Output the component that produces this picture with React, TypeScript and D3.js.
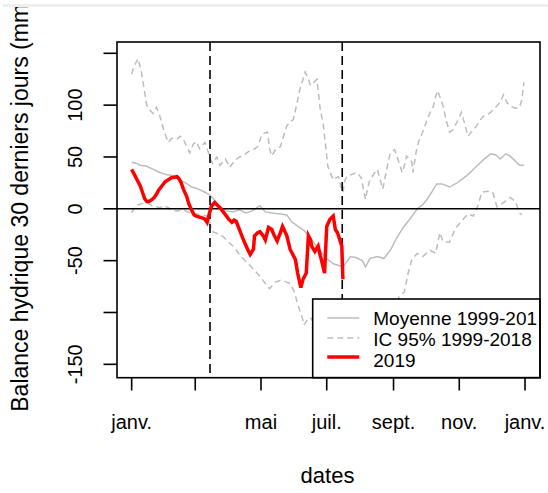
import React from "react";
import * as d3 from "d3";

// ---- data (day of year 2019, value in mm) ----
const meanDays = [0, 4, 8, 14, 20, 26, 32, 38, 44, 50, 56, 62, 68, 73, 78, 82, 88, 94, 100, 106, 112, 119, 124, 130, 138, 144, 148, 153, 160, 166, 170, 175, 181, 187, 193, 197, 203, 208, 214, 217, 221, 228, 234, 240, 246, 252, 258, 265, 270, 274, 279, 283, 288, 295, 302, 311, 316, 320, 326, 333, 338, 342, 347, 351, 356, 360, 364];
const meanVals = [45, 44, 42, 41, 38, 35, 33, 32, 28, 25, 21, 19, 16, 13, 7, 2, -2, -3, -1, -4, -2, 3, -3, -4, -5, -6, -12, -16, -21, -28, -34, -41, -48, -53, -55, -55, -46, -47, -50, -56, -48, -46, -48, -40, -28, -18, -10, 0, 4, 9, 17, 24, 24, 21, 25, 32, 37, 41, 47, 53, 52, 48, 53, 51, 46, 42, 42];

const upperDays = [0, 2, 6, 9, 14, 17, 20, 23, 26, 30, 34, 37, 42, 45, 48, 51, 54, 57, 60, 63, 68, 71, 73, 75, 79, 82, 87, 91, 96, 100, 103, 108, 113, 117, 121, 126, 128, 130, 134, 138, 141, 144, 147, 150, 153, 156, 159, 161, 164, 166, 169, 172, 175, 178, 179, 182, 185, 187, 190, 192, 194, 196, 198, 200, 204, 209, 213, 217, 219, 221, 225, 228, 230, 233, 237, 240, 244, 247, 251, 254, 255, 258, 260, 261, 264, 266, 270, 274, 277, 280, 282, 284, 287, 289, 292, 295, 298, 300, 304, 306, 309, 312, 316, 320, 323, 326, 330, 333, 337, 342, 345, 348, 351, 356, 360, 362, 364];
const upperVals = [130, 137, 145, 132, 100, 95, 92, 98, 90, 75, 64, 68, 67, 70, 67, 60, 54, 62, 65, 58, 64, 55, 48, 44, 50, 42, 48, 40, 47, 50, 51, 55, 57, 60, 72, 74, 58, 51, 58, 60, 70, 80, 84, 86, 100, 115, 125, 132, 125, 119, 122, 125, 96, 80, 70, 41, 33, 28, 30, 31, 22, 16, 28, 32, 33, 35, 30, 9, 20, 28, 34, 38, 30, 19, 40, 54, 57, 48, 35, 45, 51, 48, 45, 35, 55, 64, 74, 85, 93, 99, 108, 114, 105, 99, 85, 74, 76, 80, 88, 93, 82, 70, 75, 80, 85, 89, 91, 93, 97, 103, 110, 103, 99, 97, 98, 105, 122];

const lowerDays = [0, 2, 6, 10, 14, 19, 23, 26, 30, 34, 37, 42, 48, 54, 60, 66, 70, 73, 75, 80, 85, 89, 94, 100, 107, 113, 119, 124, 128, 133, 138, 142, 147, 151, 153, 156, 158, 160, 163, 166, 170, 180, 190, 200, 210, 220, 230, 240, 248, 253, 257, 260, 265, 270, 277, 282, 286, 289, 295, 300, 305, 312, 317, 321, 325, 330, 335, 339, 345, 351, 356, 360, 362];
const lowerVals = [-4, 0, 4, 5, 6, 3, 2, 1, 3, 1, -1, -2, -1, -4, -5, -6, -7, -15, -22, -24, -27, -31, -36, -44, -52, -58, -65, -72, -77, -71, -69, -70, -72, -80, -88, -98, -104, -112, -107, -105, -112, -120, -130, -135, -140, -145, -140, -120, -85, -80, -60, -49, -43, -46, -40, -43, -23, -32, -32, -20, -13, -5, -7, 2, 16, 17, 16, 2, 6, 11, 7, -4, -6];

const obsDays = [0, 1, 3, 5, 8, 10, 12, 14, 16, 19, 21, 23, 25, 28, 31, 34, 37, 42, 44, 46, 48, 51, 53, 56, 58, 60, 63, 66, 68, 70, 72, 74, 77, 80, 82, 85, 88, 90, 93, 95, 97, 100, 103, 105, 108, 110, 113, 114, 117, 119, 122, 124, 127, 130, 132, 135, 138, 140, 144, 147, 150, 152, 154, 157, 159, 162, 164, 166, 167, 170, 173, 175, 176, 179, 181, 184, 185, 187, 189, 191, 195, 196];
const obsVals = [38, 36, 32, 28, 22, 16, 10, 7, 7, 9, 11, 14, 18, 22, 26, 28, 30, 31, 29, 25, 19, 12, 5, -2, -6, -7, -8, -9, -10, -13, -5, 2.5, 6, 3, 1, -3, -7, -10, -13, -11, -12, -20, -28, -33, -40, -44, -39, -26, -23, -22, -26, -30, -18, -20, -25, -31, -23, -17, -26, -39, -45, -49, -62, -76, -68, -62, -26, -30, -36, -41, -36, -45, -49, -62, -17, -10, -9, -7, -20, -23, -36, -68];

const markerDays = [72.7, 195.4];

const monthTickDays = [0, 59, 120, 181, 243, 304, 365];
const monthTickLabels = ["janv.", "", "mai", "juil.", "sept.", "nov.", "janv."];

const yTicks = [-150, -100, -50, 0, 50, 100, 150];
const yTickLabels = ["-150", "", "-50", "0", "50", "100", ""];

const legendLabels = ["Moyenne 1999-2018", "IC 95% 1999-2018", "2019"];

const W = 548;
const H = 493;
const box = { left: 117, top: 42, right: 540, bottom: 377.7 };
const FONT = "'Liberation Sans', Arial, Helvetica, sans-serif";
const GREY = "#bdbdbd";

export default function App() {
  const x = d3.scaleLinear().domain([-13.6, 378.9]).range([box.left, box.right]);
  const y = d3.scaleLinear().domain([-162.9, 160.9]).range([box.bottom, box.top]);

  const mk = (days: number[], vals: number[]) =>
    d3
      .line<number>()
      .x((_, i) => x(days[i]))
      .y((v) => y(v))(vals) || "";

  const legendX = 312.7;
  const legendY = 299;
  const rowBase = [324.5, 345.5, 366.5];

  return (
    <svg
      width={W}
      height={H}
      viewBox={`0 0 ${W} ${H}`}
      style={{ position: "absolute", left: 0, top: 0, background: "#fff" }}
      fontFamily={FONT}
    >
      <defs>
        <clipPath id="plotClip">
          <rect x={box.left} y={box.top} width={box.right - box.left} height={box.bottom - box.top} />
        </clipPath>
        <clipPath id="legendClip">
          <rect x={legendX} y={legendY} width={box.right - 2.5 - legendX} height={box.bottom - legendY} />
        </clipPath>
      </defs>
      <rect x={0} y={0} width={W} height={H} fill="#fff" />

      <g clipPath="url(#plotClip)">
        <path d={mk(upperDays, upperVals)} fill="none" stroke={GREY} strokeWidth={1.5} strokeDasharray="6,4" />
        <path d={mk(lowerDays, lowerVals)} fill="none" stroke={GREY} strokeWidth={1.5} strokeDasharray="6,4" />
        <path d={mk(meanDays, meanVals)} fill="none" stroke={GREY} strokeWidth={1.5} />
        <line x1={box.left} x2={box.right} y1={y(0)} y2={y(0)} stroke="#000" strokeWidth={1.6} />
        {markerDays.map((d, i) => (
          <line key={i} x1={x(d)} x2={x(d)} y1={box.top} y2={box.bottom} stroke="#000" strokeWidth={1.6} strokeDasharray="9,5" />
        ))}
        <path d={mk(obsDays, obsVals)} fill="none" stroke="#ff0000" strokeWidth={3.5} strokeLinejoin="miter" />
      </g>

      {/* legend */}
      <rect x={legendX} y={legendY} width={box.right - legendX} height={box.bottom - legendY} fill="#fff" stroke="#000" strokeWidth={1.6} />
      <line x1={327.3} x2={359.3} y1={rowBase[0] - 6.5} y2={rowBase[0] - 6.5} stroke={GREY} strokeWidth={1.5} />
      <line x1={327.3} x2={359.3} y1={rowBase[1] - 7.5} y2={rowBase[1] - 7.5} stroke={GREY} strokeWidth={1.5} strokeDasharray="6,4" />
      <line x1={327.3} x2={359.3} y1={rowBase[2] - 9.5} y2={rowBase[2] - 9.5} stroke="#ff0000" strokeWidth={3.5} />
      <g clipPath="url(#legendClip)">
        {legendLabels.map((t, i) => (
          <text key={i} x={373.3} y={rowBase[i]} fontSize={19} fill="#000">
            {t}
          </text>
        ))}
      </g>

      {/* box */}
      <rect x={box.left} y={box.top} width={box.right - box.left} height={box.bottom - box.top} fill="none" stroke="#000" strokeWidth={1.6} />

      {/* y axis */}
      {yTicks.map((v, i) => (
        <g key={i}>
          <line x1={103.5} x2={box.left} y1={y(v)} y2={y(v)} stroke="#000" strokeWidth={1.6} />
          {yTickLabels[i] && (
            <text transform={`translate(82,${y(v)}) rotate(-90)`} textAnchor="middle" fontSize={20} fill="#000">
              {yTickLabels[i]}
            </text>
          )}
        </g>
      ))}

      {/* x axis */}
      {monthTickDays.map((d, i) => (
        <g key={i}>
          <line x1={x(d)} x2={x(d)} y1={box.bottom} y2={390.5} stroke="#000" strokeWidth={1.6} />
          {monthTickLabels[i] && (
            <text x={x(d)} y={429.3} textAnchor="middle" fontSize={20} fill="#000">
              {monthTickLabels[i]}
            </text>
          )}
        </g>
      ))}

      <text x={327.5} y={483} textAnchor="middle" fontSize={22} fill="#000">
        dates
      </text>
      <text transform="translate(27.5,204) rotate(-90)" textAnchor="middle" fontSize={23} fill="#000">
        Balance hydrique 30 derniers jours (mm)
      </text>
      <rect x={3} y={4} width={W - 3} height={3} fill="#efefef" />
      <rect x={0} y={0} width={W} height={4} fill="#fff" />
    </svg>
  );
}
